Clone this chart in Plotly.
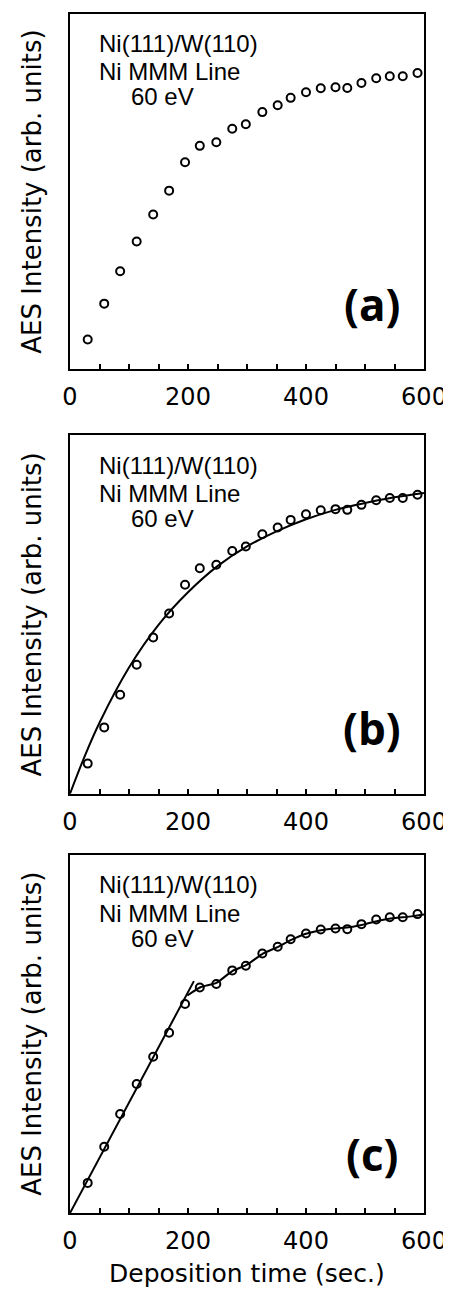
import plotly.graph_objects as go

# ---- data ----
time_s = [30, 58, 85, 113, 141, 168, 195, 220, 248, 275, 298, 326,
          352, 374, 400, 425, 450, 470, 494, 519, 542, 564, 589]
intensity = [0.084, 0.185, 0.276, 0.360, 0.436, 0.503, 0.583, 0.629,
             0.639, 0.677, 0.690, 0.724, 0.743, 0.764, 0.780, 0.791,
             0.794, 0.792, 0.806, 0.819, 0.825, 0.825, 0.834]

# panel (b): smooth fitted curve
fit_b_t = [0, 25, 50, 100, 150, 200, 250, 300, 350, 400, 450, 500, 550, 600]
fit_b_y = [0, 0.105, 0.198, 0.352, 0.471, 0.562, 0.635, 0.690, 0.732,
           0.766, 0.792, 0.811, 0.827, 0.839]

# panel (c): linear segment + saturation segment
lin_c_t = [0, 210]
lin_c_y = [0, 0.647]
sat_c_t = [199, 221, 248, 275, 300, 327, 352, 375, 400, 425, 450, 475,
           500, 525, 550, 575, 600]
sat_c_y = [0.607, 0.630, 0.642, 0.675, 0.693, 0.724, 0.742, 0.762, 0.779,
           0.789, 0.794, 0.798, 0.806, 0.816, 0.823, 0.827, 0.833]

x_tick_vals = [0, 200, 400, 600]
x_tick_text = ["0", "200", "400", "600"]
panel_labels = ["(a)", "(b)", "(c)"]
info_lines = ["Ni(111)/W(110)", "Ni MMM Line", "60 eV"]
y_title = "AES Intensity (arb. units)"
x_title = "Deposition time (sec.)"

fig = go.Figure()

marker = dict(symbol="circle-open", size=8, color="black", line=dict(width=2, color="black"))

for i in range(3):
    xa = "x" if i == 0 else f"x{i+1}"
    ya = "y" if i == 0 else f"y{i+1}"
    fig.add_trace(go.Scatter(x=time_s, y=intensity, mode="markers", marker=marker,
                             xaxis=xa, yaxis=ya, cliponaxis=False, showlegend=False))

fig.add_trace(go.Scatter(x=fit_b_t, y=fit_b_y, mode="lines",
                         line=dict(color="black", width=2, shape="spline", smoothing=1.0),
                         xaxis="x2", yaxis="y2", showlegend=False))
fig.add_trace(go.Scatter(x=lin_c_t, y=lin_c_y, mode="lines",
                         line=dict(color="black", width=2),
                         xaxis="x3", yaxis="y3", showlegend=False))
fig.add_trace(go.Scatter(x=sat_c_t, y=sat_c_y, mode="lines",
                         line=dict(color="black", width=2, shape="spline", smoothing=0.6),
                         xaxis="x3", yaxis="y3", showlegend=False))

y_domains = [[0.7036, 1.0], [0.3497, 0.6486], [0.0, 0.2989]]

# the page body has an 8px margin, so the figure is offset by 8px
layout = dict(
    width=443, height=1281,
    margin=dict(l=62, r=24, t=4, b=76),
    paper_bgcolor="white", plot_bgcolor="white",
    font=dict(family="DejaVu Sans", color="black"),
    showlegend=False,
)

annotations = []
for i in range(3):
    sfx = "" if i == 0 else str(i + 1)
    layout[f"xaxis{sfx}"] = dict(
        domain=[0, 1], range=[0, 600], anchor=f"y{sfx}",
        showline=True, mirror=True, linecolor="black", linewidth=2,
        showgrid=False, zeroline=False,
        tickmode="array", tickvals=x_tick_vals, ticktext=x_tick_text,
        ticks="inside", ticklen=5, tickwidth=2, tickcolor="black",
        minor=dict(dtick=50, tick0=0, ticks="inside", ticklen=5, tickwidth=2, tickcolor="black"),
        tickfont=dict(family="DejaVu Sans", size=24, color="black"),
        ticklabelstandoff=5, ticklabeloverflow="allow",
    )
    layout[f"yaxis{sfx}"] = dict(
        domain=y_domains[i], range=[0, 1], anchor=f"x{sfx}",
        showline=True, mirror=True, linecolor="black", linewidth=2,
        showgrid=False, zeroline=False, showticklabels=False, ticks="",
    )
    xd = f"x{sfx} domain"
    yd = f"y{sfx} domain"
    annotations.append(dict(text=info_lines[0], xref=xd, yref=yd, x=0.0756, y=0.9157,
                            xanchor="left", yanchor="middle", showarrow=False,
                            font=dict(family="Liberation Sans", size=24, color="black")))
    annotations.append(dict(text=info_lines[1], xref=xd, yref=yd, x=0.0756, y=0.837,
                            xanchor="left", yanchor="middle", showarrow=False,
                            font=dict(family="Liberation Sans", size=24, color="black")))
    annotations.append(dict(text=info_lines[2], xref=xd, yref=yd, x=0.168, y=0.767,
                            xanchor="left", yanchor="middle", showarrow=False,
                            font=dict(family="Liberation Sans", size=24, color="black")))
    annotations.append(dict(text=f"<b>{panel_labels[i]}</b>", xref=xd, yref=yd,
                            x=0.852, y=[0.183, 0.184, 0.164][i],
                            xanchor="center", yanchor="middle", showarrow=False,
                            font=dict(family="Open Sans", size=44, color="black")))
    annotations.append(dict(text=y_title, xref=xd, yref=yd, x=0, y=0.5,
                            xanchor="center", yanchor="middle", xshift=-38,
                            textangle=-90, showarrow=False,
                            font=dict(family="DejaVu Sans", size=26, color="black")))

annotations.append(dict(text=x_title, xref="x3 domain", yref="y3 domain", x=0.5, y=0,
                        xanchor="center", yanchor="middle", yshift=-60, showarrow=False,
                        font=dict(family="DejaVu Sans", size=25, color="black")))
layout["annotations"] = annotations

fig.update_layout(**layout)
fig.write_html("out.html")
